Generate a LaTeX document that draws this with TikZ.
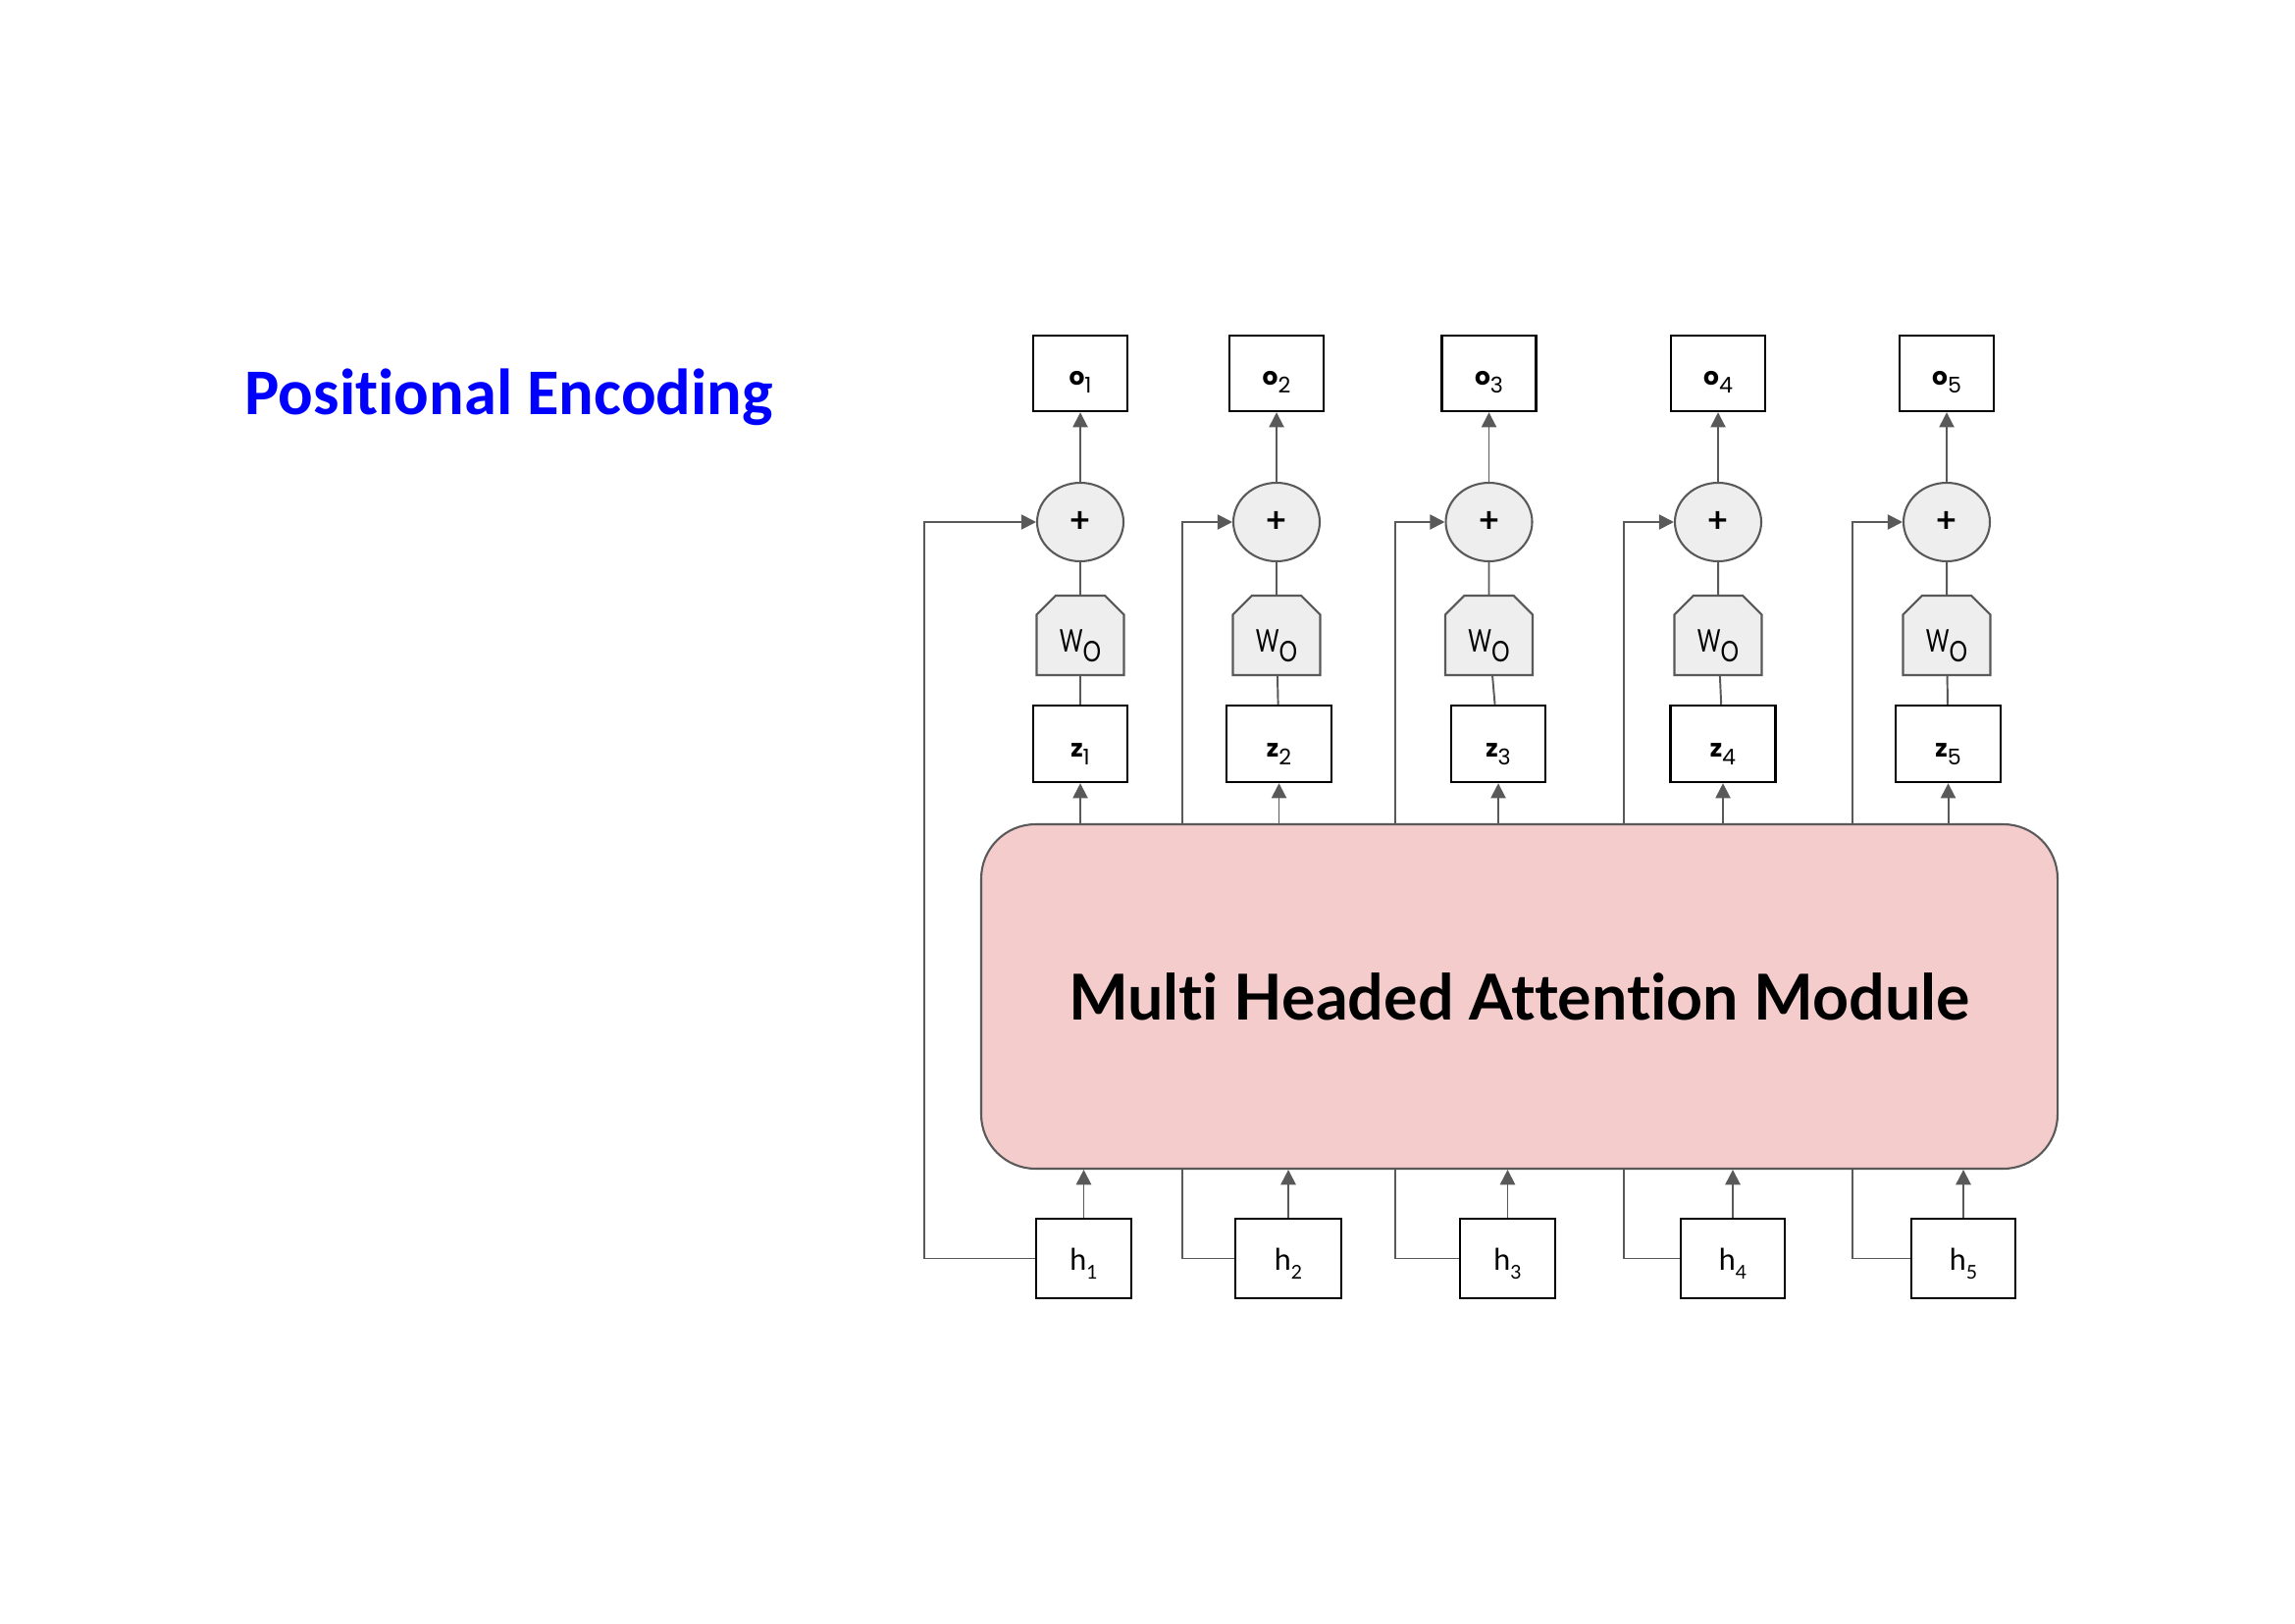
\documentclass[tikz,border=0pt]{standalone}
\usepackage{fontspec}
\setmainfont[Ligatures=NoCommon]{Lato}
\newfontfamily\titlefont[Ligatures=NoCommon]{Carlito}
\newfontfamily\labfont{Poppins}
\usetikzlibrary{arrows.meta,shapes.geometric,shapes.misc,backgrounds}
\newdimen\unitpx \unitpx=0.0127cm
\definecolor{linegray}{HTML}{595959}
\definecolor{softgray}{HTML}{EEEEEE}
\definecolor{modpink}{HTML}{F4CCCC}
\newcommand{\boldsub}[2]{{\bfseries #1}\raisebox{-3pt}{\fontsize{8}{9}\selectfont #2}}
\newcommand{\plainsub}[2]{#1\raisebox{-3pt}{\fontsize{7}{8}\selectfont #2}}
\begin{document}
\begin{tikzpicture}[x=0.0127cm, y=-0.0127cm,
	conn/.style={draw=linegray, line width=0.7pt},
	arr/.style={conn, -{Triangle[length=5.5pt,width=5.5pt]}},
	box/.style={draw=black, line width=0.9pt, inner sep=0pt},
	grayshape/.style={draw=linegray, fill=softgray, line width=0.75pt, inner sep=0pt}]
	\useasboundingbox (0,0) rectangle (2339,1654);
	
	\node[anchor=base west, inner sep=0pt, text=blue, font=\titlefont\bfseries\fontsize{24}{28}\selectfont] (title) at (249,423) {Positional Encoding};
	
	\node[grayshape, draw=linegray, fill=modpink, rounded corners=20pt, minimum width=1097*\unitpx, minimum height=351*\unitpx, font=\bfseries\fontsize{23.3}{27}\selectfont] (mham) at (1548.5,1015.5) {Multi Headed Attention Module};
	
	\foreach \i/\xo/\xz/\wz/\xh/\wh/\xb in {1/1101/1101/96/1104.5/97/942, 2/1301/1303.5/107/1313/108/1205, 3/1517.5/1527/96/1536.5/97/1422, 4/1751/1756/107/1766/106/1655, 5/1984/1985.5/107/2001/106/1888}{
		\node[box, minimum width=96*\unitpx, minimum height=77*\unitpx, text height=8.4pt, text depth=0pt, font=\labfont\fontsize{9}{11}\selectfont] (o\i) at (\xo,380.5) {\boldsub{o}{\i}};
		\node[grayshape, ellipse, minimum width=88*\unitpx, minimum height=80*\unitpx, font=\bfseries\fontsize{13}{15}\selectfont] (sum\i) at (\xo,532) {+};
		\node[grayshape, chamfered rectangle, chamfered rectangle corners={north west,north east}, chamfered rectangle sep=3.5pt, minimum width=89*\unitpx, minimum height=81*\unitpx, text height=12.6pt, text depth=0pt, font=\fontsize{11.5}{13}\selectfont] (w\i) at (\xo,647.5) {\scalebox{0.72}[1]{W}\raisebox{-3.3pt}{\fontsize{10.5}{12}\selectfont\scalebox{0.8}[1]{O}}};
		\node[box, minimum width=\wz*\unitpx, minimum height=78*\unitpx, text height=9.4pt, text depth=0pt, font=\labfont\fontsize{9}{11}\selectfont] (z\i) at (\xz,758) {\boldsub{z}{\i}};
		\node[box, minimum width=\wh*\unitpx, minimum height=81*\unitpx, text height=9pt, text depth=0pt, font=\fontsize{11}{13}\selectfont] (h\i) at (\xh,1282.5) {\plainsub{h}{\i}};
		\coordinate (b\i) at (\xb,1282.5);
		
		\draw[arr] (sum\i) -- (o\i);
		\draw[conn] (w\i) -- (sum\i);
		\draw[conn] (z\i) -- (w\i);
		\draw[arr] (z\i.south |- mham.north) -- (z\i.south);
		\draw[arr] (h\i.north) -- (h\i.north |- mham.south);
		\begin{scope}[on background layer]
			\draw[arr] (h\i.west) -- (b\i) |- (sum\i.west);
		\end{scope}
	}
	
\end{tikzpicture}
\end{document}
